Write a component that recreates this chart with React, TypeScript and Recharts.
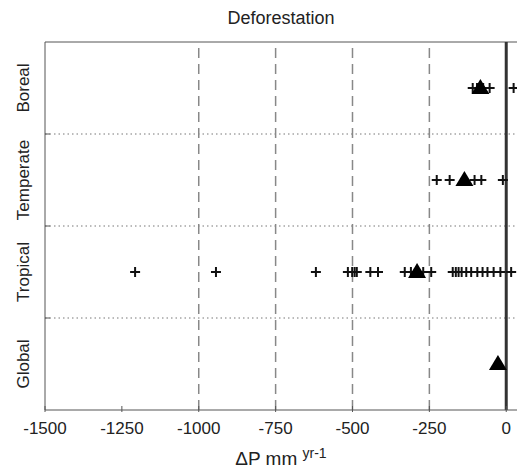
import React from "react";
import { ScatterChart, Scatter, XAxis, YAxis, ReferenceLine } from "recharts";

const categories = ["Global", "Tropical", "Temperate", "Boreal"];
const xTicks = [-1500, -1250, -1000, -750, -500, -250, 0];
const gridValues = [-1000, -750, -500, -250];

const borealPlus = [-109, -95, -75, -54, 24];
const temperatePlus = [-226, -184, -103, -81, -11];
const tropicalPlus = [
  -1207, -944, -619, -515, -501, -493, -486, -442, -417, -330, -310, -270, -244,
  -174, -164, -155, -145, -130, -114, -94, -77, -61, -41, -19, 16,
];
const globalPlus: number[] = [];
const meanValues = [-27, -290, -136, -84]; // Global, Tropical, Temperate, Boreal

const plusLists = [globalPlus, tropicalPlus, temperatePlus, borealPlus];

const plusData = plusLists.flatMap((list, i) => list.map((v) => ({ x: v, y: i + 0.5 })));
const meanData = meanValues.map((v, i) => ({ x: v, y: i + 0.5 }));

const FONT = "'Liberation Sans', Arial, sans-serif";

const PlusShape = (props: any) => {
  const { cx, cy } = props;
  return (
    <g>
      <line x1={cx - 5} x2={cx + 5} y1={cy} y2={cy} stroke="#111" strokeWidth={2} />
      <line x1={cx} x2={cx} y1={cy - 5} y2={cy + 5} stroke="#111" strokeWidth={2} />
    </g>
  );
};

const TriShape = (props: any) => {
  const { cx, cy } = props;
  return <polygon points={`${cx - 9},${cy + 6} ${cx + 9},${cy + 6} ${cx},${cy - 9}`} fill="#000" />;
};

const XTick = (props: any) => {
  const { x, y, payload } = props;
  return (
    <g>
      <line x1={x} x2={x} y1={y} y2={y - 6} stroke="#555" strokeWidth={1} />
      <text x={x} y={y + 22} textAnchor="middle" fontFamily={FONT} fontSize={17} fill="#222">
        {payload.value}
      </text>
    </g>
  );
};

const YTick = (props: any) => {
  const { y, payload } = props;
  const v = payload.value;
  if (Number.isInteger(v)) {
    return <line x1={45} x2={50} y1={y} y2={y} stroke="#555" strokeWidth={1} />;
  }
  const label = categories[Math.floor(v)];
  const tx = 29;
  return (
    <text
      x={tx}
      y={y}
      transform={`rotate(-90, ${tx}, ${y})`}
      textAnchor="middle"
      fontFamily={FONT}
      fontSize={17}
      fill="#222"
    >
      {label}
    </text>
  );
};

export default function App() {
  return (
    <div style={{ position: "absolute", left: 0, top: 0, width: 518, height: 468, background: "#fff" }}>
      <div
        style={{
          position: "absolute",
          top: 7,
          left: 45,
          width: 472,
          textAlign: "center",
          fontFamily: FONT,
          fontSize: 18,
          lineHeight: "22px",
          color: "#222",
        }}
      >
        Deforestation
      </div>
      <div
        style={{
          position: "absolute",
          top: 440,
          left: 45,
          width: 472,
          textAlign: "center",
          fontFamily: FONT,
          fontSize: 19,
          lineHeight: "26px",
          color: "#222",
        }}
      >
        ΔP mm <sup style={{ fontSize: 14 }}>yr-1</sup>
      </div>
      <ScatterChart width={518} height={468} margin={{ top: 42, right: 1, bottom: 0, left: 10 }}>
        <XAxis
          type="number"
          dataKey="x"
          domain={[-1500, 35]}
          ticks={xTicks}
          tick={<XTick />}
          tickLine={false}
          tickSize={0}
          height={58}
          axisLine={{ stroke: "#555", strokeWidth: 1 }}
          allowDataOverflow
        />
        <YAxis
          type="number"
          dataKey="y"
          domain={[0, 4]}
          ticks={[0.5, 1, 1.5, 2, 2.5, 3, 3.5]}
          tick={<YTick />}
          tickLine={false}
          tickSize={0}
          width={35}
          axisLine={{ stroke: "#555", strokeWidth: 1 }}
        />
        <ReferenceLine y={4} stroke="#555" strokeWidth={1} />
        {[1, 2, 3].map((v) => (
          <ReferenceLine key={v} y={v} stroke="#777" strokeWidth={1} strokeDasharray="1.5 3" />
        ))}
        {gridValues.map((v) => (
          <ReferenceLine key={v} x={v} stroke="#888" strokeWidth={1.5} strokeDasharray="10 6" />
        ))}
        <ReferenceLine x={0} stroke="#333" strokeWidth={3} />
        <Scatter data={plusData} shape={<PlusShape />} isAnimationActive={false} />
        <Scatter data={meanData} shape={<TriShape />} isAnimationActive={false} />
      </ScatterChart>
    </div>
  );
}
